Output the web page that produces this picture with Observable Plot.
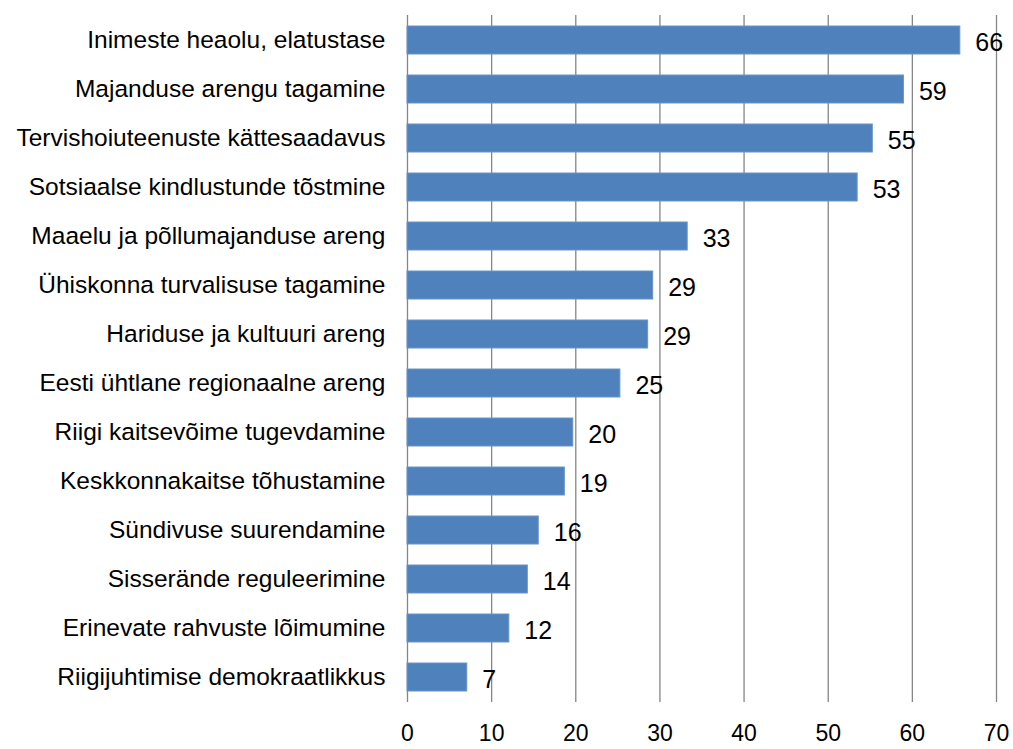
<!DOCTYPE html>
<html>
<head>
<meta charset="utf-8">
<script src="https://cdn.jsdelivr.net/npm/d3@7"></script>
<script src="https://cdn.jsdelivr.net/npm/@observablehq/plot@0.6"></script>
<style>
  html, body { margin: 0; padding: 0; background: #fff; }
  #chart svg { display: block; }
</style>
</head>
<body>
<div id="chart"></div>
<script>
const categories = [
  "Inimeste heaolu, elatustase",
  "Majanduse arengu tagamine",
  "Tervishoiuteenuste kättesaadavus",
  "Sotsiaalse kindlustunde tõstmine",
  "Maaelu ja põllumajanduse areng",
  "Ühiskonna turvalisuse tagamine",
  "Hariduse ja kultuuri areng",
  "Eesti ühtlane regionaalne areng",
  "Riigi kaitsevõime tugevdamine",
  "Keskkonnakaitse tõhustamine",
  "Sündivuse suurendamine",
  "Sisserände reguleerimine",
  "Erinevate rahvuste lõimumine",
  "Riigijuhtimise demokraatlikkus"
];
const values = [65.7, 59.0, 55.3, 53.5, 33.3, 29.2, 28.6, 25.3, 19.7, 18.7, 15.6, 14.3, 12.1, 7.1];
const valueLabels = ["66", "59", "55", "53", "33", "29", "29", "25", "20", "19", "16", "14", "12", "7"];
const xTicks = [0, 10, 20, 30, 40, 50, 60, 70];

const data = categories.map((c, i) => ({category: c, value: values[i], label: valueLabels[i]}));

const font = "'Liberation Sans', Arial, sans-serif";

function frameLines(index, scales, values, dims) {
  const ns = "http://www.w3.org/2000/svg";
  const g = document.createElementNS(ns, "g");
  const y = scales.y, x = scales.x;
  const step = y(categories[1]) - y(categories[0]);
  const bw = y.bandwidth !== undefined ? y.bandwidth : step * 0.58;
  const x0 = x(0), x1 = x(xTicks[xTicks.length - 1]);
  const bounds = categories.map(c => y(c) + bw / 2 - step / 2);
  bounds.push(bounds[bounds.length - 1] + step);
  let d = `M${x0},${bounds[0]}V${bounds[bounds.length - 1]}H${x1}`;
  for (const b of bounds) d += `M${x0 - 7},${b}H${x0}`;
  for (const t of xTicks) d += `M${x(t)},${bounds[bounds.length - 1]}v6`;
  const p = document.createElementNS(ns, "path");
  p.setAttribute("d", d);
  p.setAttribute("fill", "none");
  p.setAttribute("stroke", "#868686");
  p.setAttribute("stroke-width", "1.3");
  g.appendChild(p);
  return g;
}

const chart = Plot.plot({
  width: 1013,
  height: 749,
  marginLeft: 407,
  marginRight: 17,
  marginTop: 15,
  marginBottom: 47,
  style: {fontFamily: font, background: "#fff"},
  x: {domain: [0, 70], ticks: xTicks},
  y: {domain: categories, paddingInner: 0.42, paddingOuter: 0.21, align: 0.5},
  marks: [
    Plot.gridX(xTicks, {stroke: "#868686", strokeOpacity: 1, strokeWidth: 1.3}),
    Plot.barX(data, {x: "value", y: "category", fill: "#4F81BD", stroke: "#6a95c8", strokeWidth: 1}),
    Plot.text(data, {x: "value", y: "category", text: "label", textAnchor: "start", dx: 15, dy: 2, fontSize: 25, fill: "#000", fontFamily: font}),
    frameLines,
    Plot.axisY({tickSize: 0, tickPadding: 22, fontSize: 24.5, label: null, fill: "#000", fontFamily: font}),
    Plot.axisX(xTicks, {tickSize: 0, tickPadding: 22, fontSize: 23, label: null, fill: "#000", fontFamily: font})
  ]
});
document.getElementById("chart").appendChild(chart);
</script>
</body>
</html>
